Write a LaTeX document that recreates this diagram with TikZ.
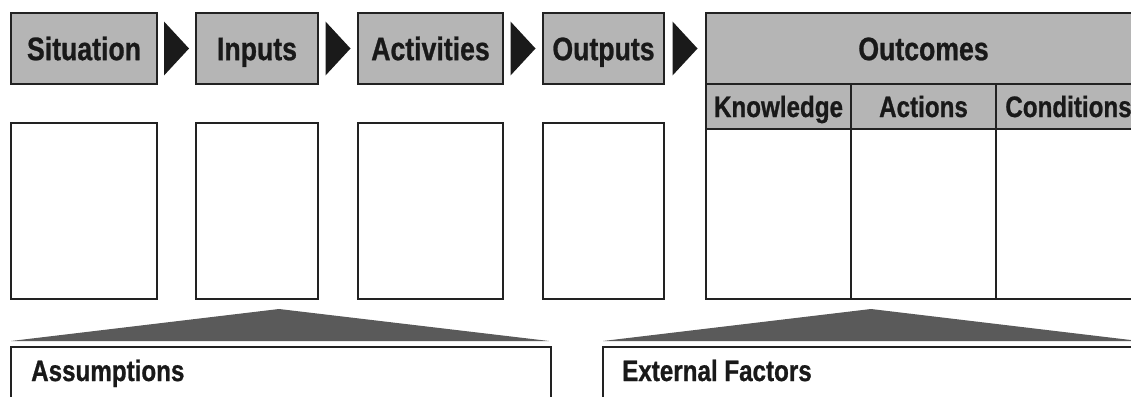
\documentclass[tikz,border=0pt]{standalone}
\usepackage{fontspec}
\newfontfamily\labelfont[FakeStretch=0.82,BoldFeatures={FakeBold=0.8}]{Liberation Sans}
\usetikzlibrary{calc}
\definecolor{headgray}{HTML}{B5B5B5}
\definecolor{wedgegray}{HTML}{5A5A5A}
\definecolor{inkline}{HTML}{222222}
\definecolor{arrowink}{HTML}{1A1A1A}
\begin{document}
\begin{tikzpicture}[x=1pt,y=-1pt,
  box/.style={draw=inkline,line width=2pt,inner sep=0pt,anchor=north west,
    font=\labelfont\bfseries\fontsize{32.5}{38}\selectfont,
    text height=23.3pt,text depth=0pt,text=black!90},
  headbox/.style={box,fill=headgray},
  subhead/.style={headbox,minimum width=145pt,minimum height=45pt,
    font=\labelfont\bfseries\fontsize{29.5}{35}\selectfont,text height=21pt},
  cellbox/.style={box,fill=white},
  flowtip/.style={fill=arrowink},
  wedge/.style={fill=wedgegray},
  notelabel/.style={anchor=base west,inner sep=0pt,text=black!90,
    font=\labelfont\bfseries\fontsize{29.5}{35}\selectfont}]
\useasboundingbox (0,0) rectangle (1131,396);
\fill[white] (0,0) rectangle (1131,396);

% header row
\node[headbox,minimum width=146pt,minimum height=71pt] (sit) at (10,12) {Situation};
\node[headbox,minimum width=122pt,minimum height=71pt] (inp) at (195,12) {Inputs};
\node[headbox,minimum width=145pt,minimum height=71pt] (act) at (357,12) {Activities};
\node[headbox,minimum width=121pt,minimum height=71pt] (out) at (542,12) {Outputs};
\node[headbox,minimum width=435pt,minimum height=71pt] (oc) at (705,12) {Outcomes};

% flow arrows between header boxes
\foreach \a/\b in {sit/inp,inp/act,act/out,out/oc}{
  \coordinate (m) at ($(\a.east)!0.5!(\b.west)$);
  \fill[flowtip] ($(m)+(-12.5,-27)$) -- ($(m)+(12.5,0)$) -- ($(m)+(-12.5,27)$) -- cycle;
}

% outcome sub-headers
\node[subhead] (know) at (705,83) {Knowledge};
\node[subhead] (acts) at (850,83) {Actions};
\node[subhead] (cond) at (995,83) {Conditions};

% empty content cells
\node[cellbox,minimum width=146pt,minimum height=176pt] (sitc) at (10,122) {};
\node[cellbox,minimum width=122pt,minimum height=176pt] (inpc) at (195,122) {};
\node[cellbox,minimum width=145pt,minimum height=176pt] (actc) at (357,122) {};
\node[cellbox,minimum width=121pt,minimum height=176pt] (outc) at (542,122) {};
\node[cellbox,minimum width=145pt,minimum height=170pt] (knowc) at (705,128) {};
\node[cellbox,minimum width=145pt,minimum height=170pt] (actsc) at (850,128) {};
\node[cellbox,minimum width=145pt,minimum height=170pt] (condc) at (995,128) {};

% wedges
\fill[wedge] (11,341) -- (279,309) -- (549,341) -- cycle;
\fill[wedge] (603,341) -- (871,309) -- (1139,341) -- cycle;

% bottom panels
\node[cellbox,minimum width=540pt,minimum height=80pt] (assum) at (10,346) {};
\node[cellbox,minimum width=538pt,minimum height=80pt] (ext) at (602,346) {};
\node[notelabel] (assumt) at (31,381) {Assumptions};
\node[notelabel] (extt) at (622,381) {External Factors};
\end{tikzpicture}
\end{document}
